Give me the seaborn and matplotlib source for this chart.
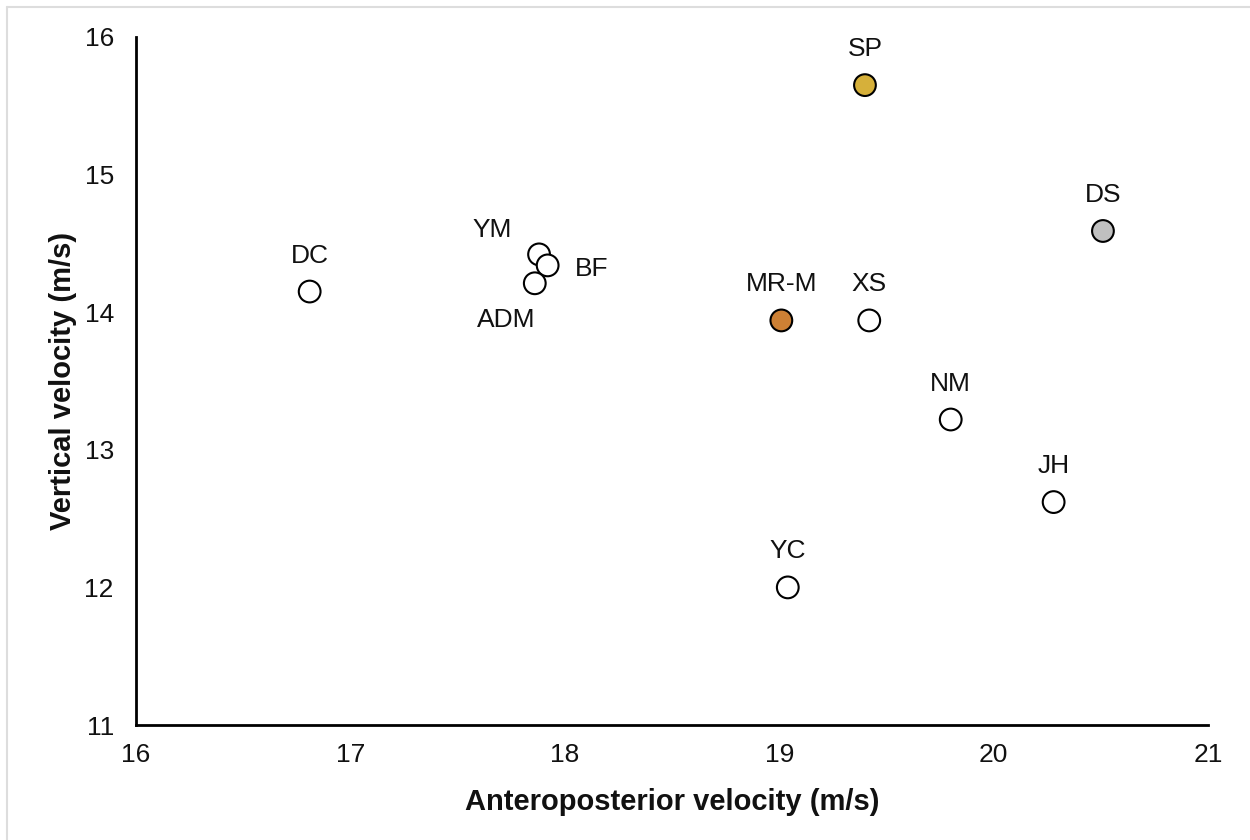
import matplotlib
matplotlib.use("Agg")
import matplotlib.pyplot as plt
from matplotlib.lines import Line2D
import seaborn as sns
import pandas as pd

sns.set_style("white")
plt.rcParams["font.family"] = ["Liberation Sans", "DejaVu Sans"]

# Athlete take-off velocities
athletes = ["DC", "YM", "BF", "ADM", "MR-M", "XS", "SP", "DS", "NM", "JH", "YC"]
ap_velocity = [16.81, 17.88, 17.92, 17.86, 19.01, 19.42, 19.40, 20.51, 19.80, 20.28, 19.04]
vert_velocity = [14.15, 14.42, 14.34, 14.21, 13.94, 13.94, 15.65, 14.59, 13.22, 12.62, 12.00]
medal = ["none", "none", "none", "none", "bronze", "none", "gold", "silver", "none", "none", "none"]

x_ticks = [16, 17, 18, 19, 20, 21]
y_ticks = [11, 12, 13, 14, 15, 16]

medal_colors = {"none": "#FFFFFF", "gold": "#D6B03A", "silver": "#C0C0C0", "bronze": "#CD8034"}

# label offsets in pixels (dx, dy), dy positive = upward
label_offsets = {
    "YM": (-47, 24),
    "BF": (44, -4),
    "ADM": (-29, -37),
}
default_offset = (0, 36)

df = pd.DataFrame({"athlete": athletes, "ap": ap_velocity, "vert": vert_velocity, "medal": medal})

fig = plt.figure(figsize=(12.5, 8.4), dpi=100)
ax = fig.add_axes([0.1088, 0.1369, 0.8576, 0.8191])

sns.scatterplot(
    data=df, x="ap", y="vert", hue="medal", palette=medal_colors,
    s=245, edgecolor="black", linewidth=1.5, legend=False, ax=ax, zorder=3,
)

for _, row in df.iterrows():
    dx, dy = label_offsets.get(row["athlete"], default_offset)
    ax.annotate(row["athlete"], (row["ap"], row["vert"]), xytext=(dx, dy),
                textcoords="offset pixels", ha="center", va="center",
                fontsize=19, color="#111111")

ax.set_xlim(16, 21)
ax.set_ylim(11, 16)
ax.set_xticks(x_ticks)
ax.set_yticks(y_ticks)
ax.tick_params(axis="both", length=0, labelsize=19, colors="#111111")
ax.tick_params(axis="x", pad=13)
ax.tick_params(axis="y", pad=16)
for side in ["top", "right"]:
    ax.spines[side].set_visible(False)
for side in ["left", "bottom"]:
    ax.spines[side].set_color("black")
    ax.spines[side].set_linewidth(2)

ax.set_xlabel("Anteroposterior velocity (m/s)", fontsize=21, fontweight="bold", labelpad=15, color="#111111")
ax.set_ylabel("Vertical velocity (m/s)", fontsize=21, fontweight="bold", labelpad=5, color="#111111")

# thin frame lines along the top and left edges of the figure
fig.add_artist(Line2D([0.0056, 0.0056], [0, 0.9917], transform=fig.transFigure, color="#DDDDDD", lw=1.5))
fig.add_artist(Line2D([0.0056, 1.0], [0.9917, 0.9917], transform=fig.transFigure, color="#DDDDDD", lw=1.5))

fig.savefig("out.png", dpi=100, facecolor="white")
